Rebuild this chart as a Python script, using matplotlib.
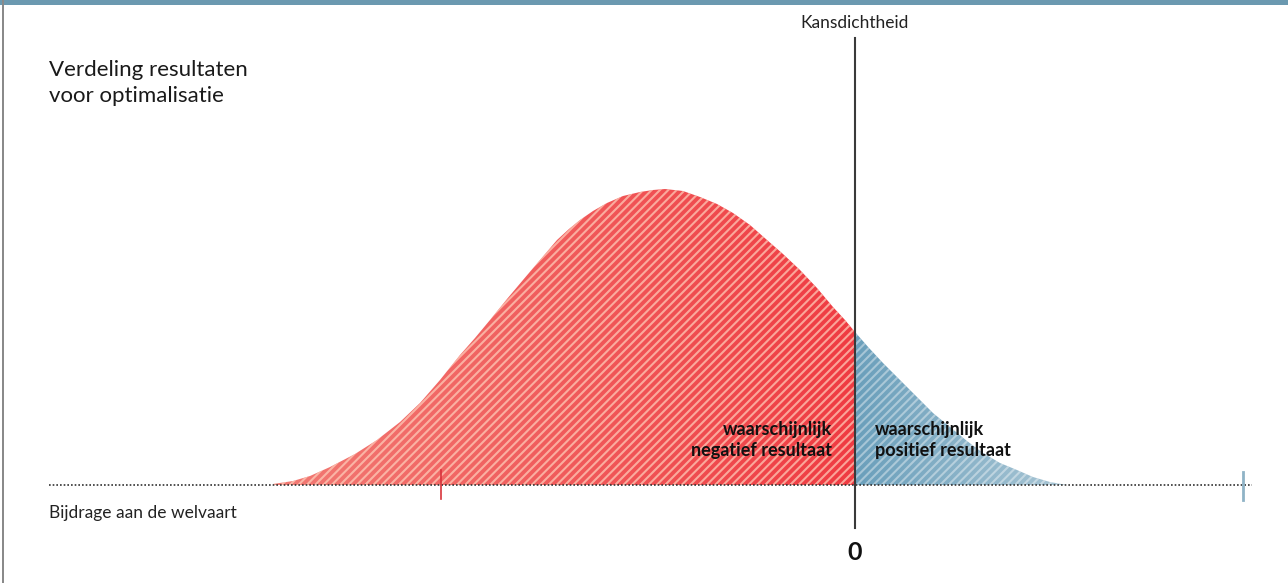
import matplotlib.pyplot as plt
import numpy as np
from matplotlib.patches import Polygon, Rectangle

plt.rcParams.update(
    {
        "font.family": ["Lato", "DejaVu Sans"],
        "hatch.linewidth": 1.5,
    }
)

# density curve (x: welfare contribution, 0 = break-even)
curve_x = [-5.82, -5.62, -5.45, -5.25, -5.00, -4.78, -4.55, -4.35, -4.15, -3.95,
           -3.80, -3.65, -3.48, -3.32, -3.15, -2.98, -2.86, -2.75, -2.62, -2.48,
           -2.32, -2.15, -2.02, -1.90, -1.72, -1.55, -1.38, -1.22, -1.05, -0.88,
           -0.72, -0.55, -0.38, -0.22, -0.10, 0.00, 0.14, 0.28, 0.45, 0.62,
           0.78, 0.95, 1.12, 1.28, 1.45, 1.62, 1.78, 1.95, 2.12]
curve_y = [0.01, 0.04, 0.09, 0.18, 0.31, 0.45, 0.63, 0.82, 1.05, 1.30,
           1.47, 1.65, 1.86, 2.05, 2.25, 2.45, 2.56, 2.65, 2.74, 2.82,
           2.89, 2.93, 2.95, 2.96, 2.94, 2.88, 2.81, 2.72, 2.60, 2.45,
           2.31, 2.15, 1.97, 1.78, 1.65, 1.53, 1.37, 1.22, 1.05, 0.88,
           0.72, 0.58, 0.44, 0.32, 0.22, 0.15, 0.08, 0.03, 0.00]
tick_left = -4.14
tick_right = 3.88
axis_start, axis_end = -8.06, 3.97

RED_L, RED_R = "#f27a74", "#ef3b42"
BLUE_L, BLUE_R = "#6a9fbb", "#a9c6d5"


def hex_rgb(c):
    c = c.lstrip("#")
    return np.array([int(c[i:i + 2], 16) / 255 for i in (0, 2, 4)])


def gradient_fill(ax, xs, ys, c0, c1, stripe):
    pts = [(xs[0], 0)] + list(zip(xs, ys)) + [(xs[-1], 0)]
    patch = Polygon(pts, closed=True, fc="none", ec="none")
    ax.add_patch(patch)
    t = np.linspace(0, 1, 256)[None, :, None]
    img = hex_rgb(c0) * (1 - t) + hex_rgb(c1) * t
    im = ax.imshow(img, extent=(xs[0], xs[-1], 0, max(ys)), aspect="auto",
                   interpolation="bilinear", zorder=1)
    im.set_clip_path(patch)
    ax.fill_between(xs, 0, ys, facecolor="none", edgecolor=stripe, hatch="////",
                    linewidth=0, zorder=2)


fig = plt.figure(figsize=(12.88, 5.83), dpi=100)
ax = fig.add_axes([0, 0, 1, 1])
ax.set_xlim(-8.55, 4.33)
ax.set_ylim(-0.98, 4.85)
ax.axis("off")

cx = np.array(curve_x)
cy = np.array(curve_y)
neg = cx <= 0
pos = cx >= 0
gradient_fill(ax, cx[neg], cy[neg], RED_L, RED_R, (1.0, 0.82, 0.74, 0.7))
gradient_fill(ax, cx[pos], cy[pos], BLUE_L, BLUE_R, (1.0, 1.0, 1.0, 0.4))

# baseline and markers
ax.plot([axis_start, axis_end], [0, 0], color="#333333", lw=1.2, ls=(0, (1, 1.2)), zorder=3)
ax.plot([0, 0], [-0.43, 4.47], color="#3a3a3a", lw=1.5, zorder=4)
ax.plot([tick_left, tick_left], [-0.14, 0.15], color="#d8333b", lw=1.2, zorder=4)
ax.plot([tick_right, tick_right], [-0.15, 0.13], color="#8fb3c6", lw=2, zorder=4)

ax.text(0, 4.62, "Kansdichtheid", ha="center", va="center", fontsize=12.5, color="#222222")
ax.text(-8.06, 4.02, "Verdeling resultaten\nvoor optimalisatie", ha="left", va="center",
        fontsize=16, color="#1a1a1a", linespacing=1.35)
ax.text(-8.06, -0.28, "Bijdrage aan de welvaart", ha="left", va="center",
        fontsize=12.5, color="#222222")
ax.text(-0.23, 0.45, "waarschijnlijk\nnegatief resultaat", ha="right", va="center",
        fontsize=13, fontweight="bold", color="#111111", linespacing=1.25)
ax.text(0.20, 0.45, "waarschijnlijk\npositief resultaat", ha="left", va="center",
        fontsize=13, fontweight="bold", color="#111111", linespacing=1.25)
ax.text(0, -0.68, "0", ha="center", va="center", fontsize=18, fontweight="bold", color="#111111")

# frame decorations
fig.patches.append(Rectangle((0, 1 - 5 / 583), 1, 5 / 583, transform=fig.transFigure,
                             fc="#6b99b0", ec="none"))
fig.patches.append(Rectangle((2 / 1288, 0), 1.5 / 1288, 1, transform=fig.transFigure,
                             fc="#8a8a8a", ec="none"))

fig.savefig("out.png", dpi=100)
